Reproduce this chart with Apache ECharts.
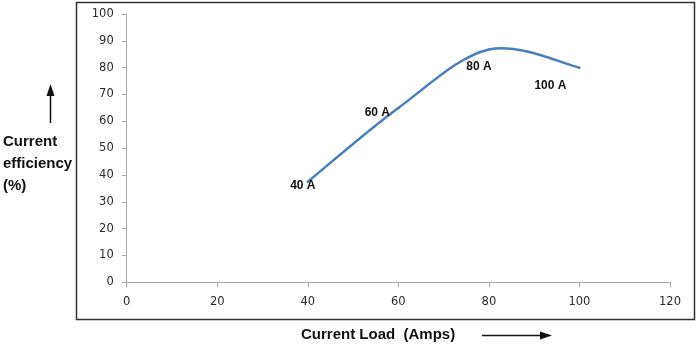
<!DOCTYPE html>
<html>
<head>
<meta charset="utf-8">
<script src="https://cdn.jsdelivr.net/npm/echarts@6/dist/echarts.min.js"></script>
<style>
  html, body { margin: 0; padding: 0; background: #fff; }
  #chart { width: 700px; height: 348px; }
</style>
</head>
<body>
<div id="chart"></div>
<script>
// Current load (A) against current efficiency (%)
const loadAmps = [40, 60, 80, 100];
const efficiency = [37.5, 65, 86.8, 80];
const pointLabels = ['40 A', '60 A', '80 A', '100 A'];
const xTicks = [0, 20, 40, 60, 80, 100, 120];
const yTicks = [0, 10, 20, 30, 40, 50, 60, 70, 80, 90, 100];

// label placement around each point
const labelOffsets = [[-5, 4], [-21, 5], [-10, 17], [-29, 18]];

const chart = echarts.init(document.getElementById('chart'), null, { renderer: 'canvas' });

const boldFont = 'bold 15px "Liberation Sans", Arial, sans-serif';
const lineColor = '#4a7ebb';

// Each item draws the smoothed segment to the next point (Catmull-Rom style
// bezier through the axis coordinates) plus its point label.
function renderItem(params, api) {
  const i = params.dataIndex;
  const n = loadAmps.length;
  const pt = j => api.coord([loadAmps[Math.max(0, Math.min(n - 1, j))],
                             efficiency[Math.max(0, Math.min(n - 1, j))]]);
  const children = [];
  if (i < n - 1) {
    const p0 = pt(i - 1), p1 = pt(i), p2 = pt(i + 1), p3 = pt(i + 2);
    const t = 1 / 6;
    const c1 = [p1[0] + (p2[0] - p0[0]) * t, p1[1] + (p2[1] - p0[1]) * t];
    const c2 = [p2[0] - (p3[0] - p1[0]) * t, p2[1] - (p3[1] - p1[1]) * t];
    children.push({
      type: 'bezierCurve',
      shape: { x1: p1[0], y1: p1[1], cpx1: c1[0], cpy1: c1[1],
               cpx2: c2[0], cpy2: c2[1], x2: p2[0], y2: p2[1] },
      style: { stroke: lineColor, lineWidth: 2.5, fill: null, lineCap: 'round' }
    });
  }
  const p = pt(i);
  children.push({
    type: 'text',
    x: p[0] + labelOffsets[i][0],
    y: p[1] + labelOffsets[i][1],
    z2: 10,
    style: {
      text: pointLabels[i],
      font: 'bold 12px "Liberation Sans", Arial, sans-serif',
      fill: '#111',
      align: 'center',
      verticalAlign: 'middle'
    }
  });
  return { type: 'group', children };
}

const option = {
  animation: false,
  backgroundColor: '#fff',
  grid: { left: 126.7, right: 30, top: 14, bottom: 65.7, containLabel: false },
  xAxis: {
    type: 'value',
    min: xTicks[0],
    max: xTicks[xTicks.length - 1],
    interval: xTicks[1] - xTicks[0],
    splitLine: { show: false },
    axisLine: { lineStyle: { color: '#a6a6a6', width: 1 } },
    axisTick: { show: true, length: 5, lineStyle: { color: '#a6a6a6' } },
    axisLabel: { color: '#2a2a2a', fontFamily: '"DejaVu Sans", Verdana, sans-serif', fontSize: 11.5, margin: 14 }
  },
  yAxis: {
    type: 'value',
    min: yTicks[0],
    max: yTicks[yTicks.length - 1],
    interval: yTicks[1] - yTicks[0],
    splitLine: { show: false },
    axisLine: { show: true, lineStyle: { color: '#a6a6a6', width: 1 } },
    axisTick: { show: true, length: 5, lineStyle: { color: '#a6a6a6' } },
    axisLabel: { color: '#2a2a2a', fontFamily: '"DejaVu Sans", Verdana, sans-serif', fontSize: 11.5, margin: 13 }
  },
  series: [{
    type: 'custom',
    renderItem: renderItem,
    clip: false,
    emphasis: { disabled: true },
    encode: { x: 0, y: 1 },
    data: loadAmps.map((x, i) => [x, efficiency[i]])
  }],
  graphic: [
    // frame around the plot
    { type: 'rect', silent: true, z: -1,
      shape: { x: 76.5, y: 2.5, width: 618, height: 317 },
      style: { fill: 'none', stroke: '#333', lineWidth: 1.5 } },
    // y-axis title
    { type: 'text', x: 3, y: 142,
      style: { text: 'Current', font: boldFont, fill: '#111', verticalAlign: 'middle' } },
    { type: 'text', x: 3, y: 163.5,
      style: { text: 'efficiency', font: boldFont, fill: '#111', verticalAlign: 'middle' } },
    { type: 'text', x: 3, y: 185.5,
      style: { text: '(%)', font: boldFont, fill: '#111', verticalAlign: 'middle' } },
    // upward arrow
    { type: 'line', shape: { x1: 50.5, y1: 123, x2: 50.5, y2: 93 },
      style: { stroke: '#111', lineWidth: 1.5 } },
    { type: 'polygon', shape: { points: [[50.5, 84], [46.5, 96], [54.5, 96]] },
      style: { fill: '#111' } },
    // x-axis title
    { type: 'text', x: 301, y: 335,
      style: { text: 'Current Load  (Amps)', font: boldFont, fill: '#111', verticalAlign: 'middle' } },
    // rightward arrow
    { type: 'line', shape: { x1: 482, y1: 335.5, x2: 544, y2: 335.5 },
      style: { stroke: '#111', lineWidth: 1.5 } },
    { type: 'polygon', shape: { points: [[552, 335.5], [540, 331.5], [540, 339.5]] },
      style: { fill: '#111' } }
  ]
};

chart.setOption(option);
</script>
</body>
</html>
